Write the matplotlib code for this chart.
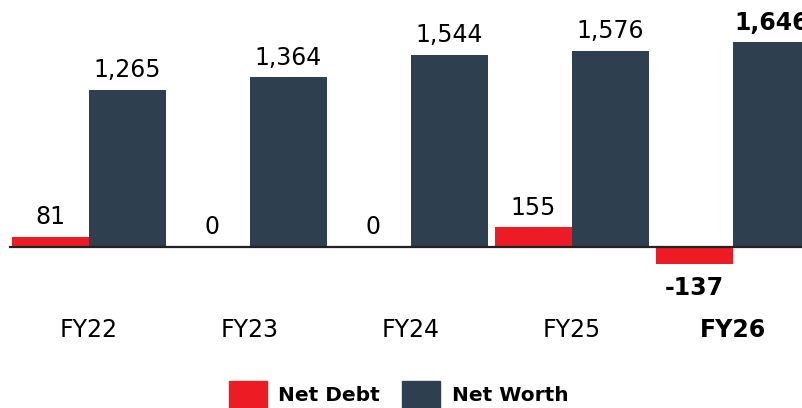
import numpy as np
import matplotlib
matplotlib.use("Agg")
import matplotlib.pyplot as plt
from matplotlib.patches import Patch

years = ["FY22", "FY23", "FY24", "FY25", "FY26"]
net_debt = [81, 0, 0, 155, -137]
net_worth = [1265, 1364, 1544, 1576, 1646]
bold_year = "FY26"

red = "#ED1C24"
navy = "#2E4050"

fig = plt.figure(figsize=(8.02, 4.08), dpi=100)
ax = fig.add_axes([0, 0, 1, 1])

x = np.arange(len(years))
w = 0.478
b1 = ax.bar(x - w / 2, net_debt, w, color=red)
b2 = ax.bar(x + w / 2, net_worth, w, color=navy)

ax.set_xlim(-0.553, 4.429)
ax.set_ylim(-1299, 1986)
ax.axhline(0, xmin=10 / 802, xmax=1, color="#222222", lw=1.6, zorder=3)

fs = 17
for i, yr in enumerate(years):
    wt = "bold" if yr == bold_year else "normal"
    for xi, v in [(x[i] - w / 2, net_debt[i]), (x[i] + w / 2, net_worth[i])]:
        if v >= 0:
            ax.annotate(f"{v:,}", (xi, v), xytext=(0, 5.5), textcoords="offset points",
                        ha="center", va="bottom", fontsize=fs, fontweight=wt)
        else:
            ax.annotate(f"{v:,}", (xi, v), xytext=(0, -9), textcoords="offset points",
                        ha="center", va="top", fontsize=fs, fontweight=wt)
    ax.text(x[i], -671, yr, ha="center", va="center", fontsize=fs, fontweight=wt)

ax.axis("off")

handles = [Patch(color=red, label="Net Debt"), Patch(color=navy, label="Net Worth")]
fig.legend(handles=handles, loc="lower center", bbox_to_anchor=(0.497, -0.045), ncol=2,
           frameon=False, prop={"size": 14.5, "weight": "bold"},
           handlelength=1.9, handleheight=1.7, handletextpad=0.55, columnspacing=1.1)

fig.savefig("out.png", dpi=100)
